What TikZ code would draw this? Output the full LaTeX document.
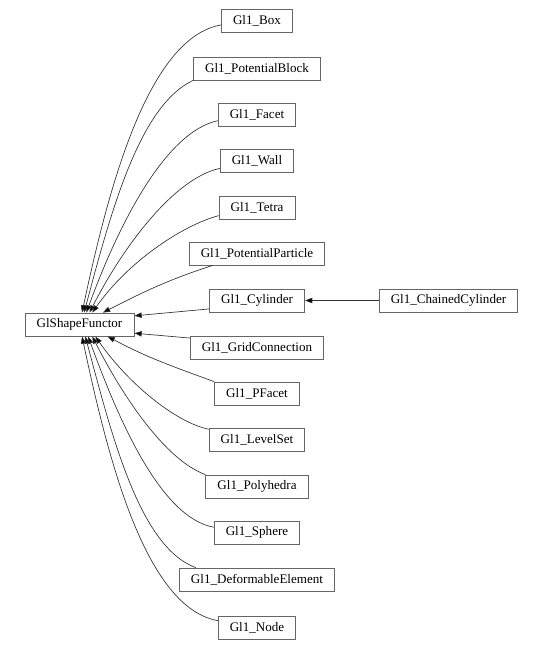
\documentclass[tikz,border=0pt]{standalone}
\usepackage{fontspec}
\setmainfont{Liberation Serif}
\usepackage{xcolor}
\definecolor{boxgray}{rgb}{0.4,0.4,0.4}
\definecolor{edgegray}{rgb}{0.2,0.2,0.2}
\usepackage{tikz}
\usetikzlibrary{arrows.meta, positioning}

\begin{document}
\begin{tikzpicture}[
  x=0.75pt, y=0.75pt,
  cls/.style={draw=boxgray, line width=0.6pt, fill=white, font=\fontsize{9.8}{12}\selectfont, inner xsep=8.7pt, inner ysep=0pt, minimum height=17.25pt},
  inh/.style={-{Triangle[length=5.5pt, width=4pt, fill=black]}, edgegray, line width=0.5pt},
  inhcurve/.style={out looseness=0.6, in looseness=1}
]
\useasboundingbox (0,0) rectangle (541,-650);
\node[cls] (gsf) at (79.5, -324.5) {GlShapeFunctor};
\node[cls] (box) at (257, -20.5) {Gl1\_Box};
\node[cls] (potblock) at (257, -68.5) {Gl1\_PotentialBlock};
\node[cls] (facet) at (257, -114.5) {Gl1\_Facet};
\node[cls] (wall) at (257, -160.5) {Gl1\_Wall};
\node[cls] (tetra) at (257, -207.5) {Gl1\_Tetra};
\node[cls] (potpart) at (257, -253.5) {Gl1\_PotentialParticle};
\node[cls] (cyl) at (257, -300.5) {Gl1\_Cylinder};
\node[cls] (chcyl) at (448.5, -300.5) {Gl1\_ChainedCylinder};
\node[cls] (gridconn) at (257, -347.5) {Gl1\_GridConnection};
\node[cls] (pfacet) at (257, -393.5) {Gl1\_PFacet};
\node[cls] (levelset) at (257, -439.5) {Gl1\_LevelSet};
\node[cls] (polyh) at (257, -486.5) {Gl1\_Polyhedra};
\node[cls] (sphere) at (257, -532.5) {Gl1\_Sphere};
\node[cls] (deform) at (257, -579.5) {Gl1\_DeformableElement};
\node[cls] (gnode) at (257, -627.5) {Gl1\_Node};
% upper branch
\draw[inh] (box.187) to[inhcurve, out=190, in=78] (gsf.78);
\draw[inh] (potblock.south west) to[inhcurve, out=205, in=75] (gsf.69);
\draw[inh] (facet.189) to[inhcurve, out=192, in=70] (gsf.60);
\draw[inh] (wall.192) to[inhcurve, out=192, in=63] (gsf.50);
\draw[inh] (tetra.192) to[inhcurve, out=195, in=55] (gsf.43);
\draw[inh] (potpart.195) to[out=198, in=27] (gsf.27);
\draw[inh] (cyl.190) -- (gsf.9);
\draw[inh] (chcyl) -- (cyl);
% lower branch
\draw[inh] (gridconn.172) -- (gsf.-9);
\draw[inh] (pfacet.north west) to[out=160, in=-28] (gsf.-23);
\draw[inh] (levelset.168) to[inhcurve, out=168, in=-55] (gsf.-37);
\draw[inh] (polyh.north west) to[inhcurve, out=160, in=-63] (gsf.-43);
\draw[inh] (sphere.173) to[inhcurve, out=170, in=-70] (gsf.-54);
\draw[inh] (deform.169) to[inhcurve, out=160, in=-75] (gsf.-64);
\draw[inh] (gnode.170) to[inhcurve, out=170, in=-78] (gsf.-78);
\end{tikzpicture}
\end{document}
